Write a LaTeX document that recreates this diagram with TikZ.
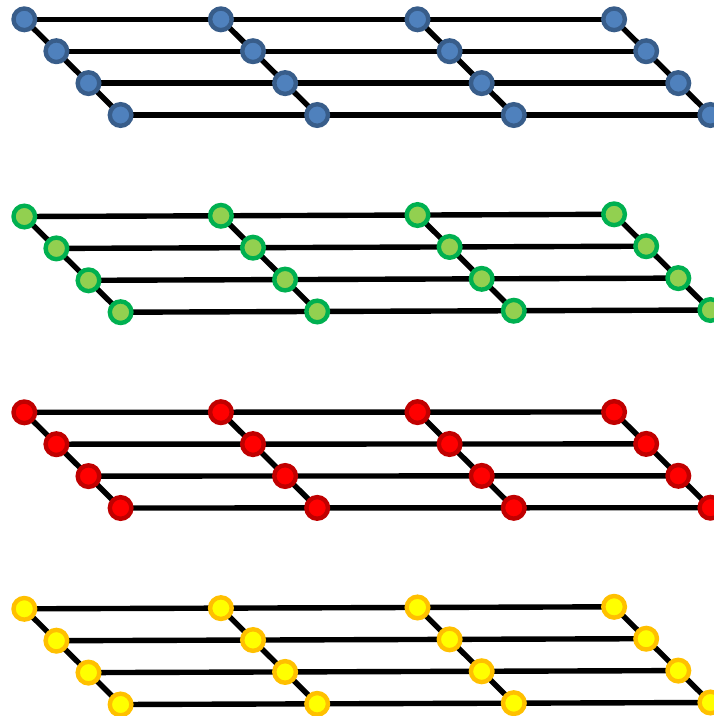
\documentclass[tikz,border=0pt]{standalone}
\usetikzlibrary{backgrounds}
\definecolor{blueFill}{HTML}{4F81BD}
\definecolor{blueEdge}{HTML}{385D8A}
\definecolor{greenFill}{HTML}{92D050}
\definecolor{greenEdge}{HTML}{00B050}
\definecolor{redFill}{HTML}{FF0000}
\definecolor{redEdge}{HTML}{C00000}
\definecolor{yellowFill}{HTML}{FFFF00}
\definecolor{yellowEdge}{HTML}{FFC000}
\tikzset{
  site/.style={circle, inner sep=0pt, minimum size=21.6pt, line width=4.4pt},
  bond/.style={line width=5.4pt, black},
}
\begin{document}
\begin{tikzpicture}[x=1pt, y=-1pt]
  \useasboundingbox (0,0) rectangle (714,716);
  % layer / top-left y / top-right y / fill / border
  \foreach \L/\yl/\yr/\fc/\ec in {1/19.3/19.3/blueFill/blueEdge,
                                  2/216.5/214.3/greenFill/greenEdge,
                                  3/412.3/412.0/redFill/redEdge,
                                  4/608.8/606.8/yellowFill/yellowEdge} {
    \foreach \r in {0,...,3} {
      \foreach \c in {0,...,3} {
        \node[site, fill=\fc, draw=\ec] (n\L-\r-\c)
          at ({24.3 + 196.6*\c + 32.1*\r}, {\yl + (\yr-\yl)*\c/3 + 31.9*\r}) {};
      }
    }
    \begin{scope}[on background layer]
      \foreach \r in {0,...,3} {
        \foreach \c [evaluate=\c as \cn using int(\c+1)] in {0,1,2} {
          \draw[bond] (n\L-\r-\c.center) -- (n\L-\r-\cn.center);
        }
      }
      \foreach \c in {0,...,3} {
        \foreach \r [evaluate=\r as \rn using int(\r+1)] in {0,1,2} {
          \draw[bond] (n\L-\r-\c.center) -- (n\L-\rn-\c.center);
        }
      }
    \end{scope}
  }
\end{tikzpicture}
\end{document}
